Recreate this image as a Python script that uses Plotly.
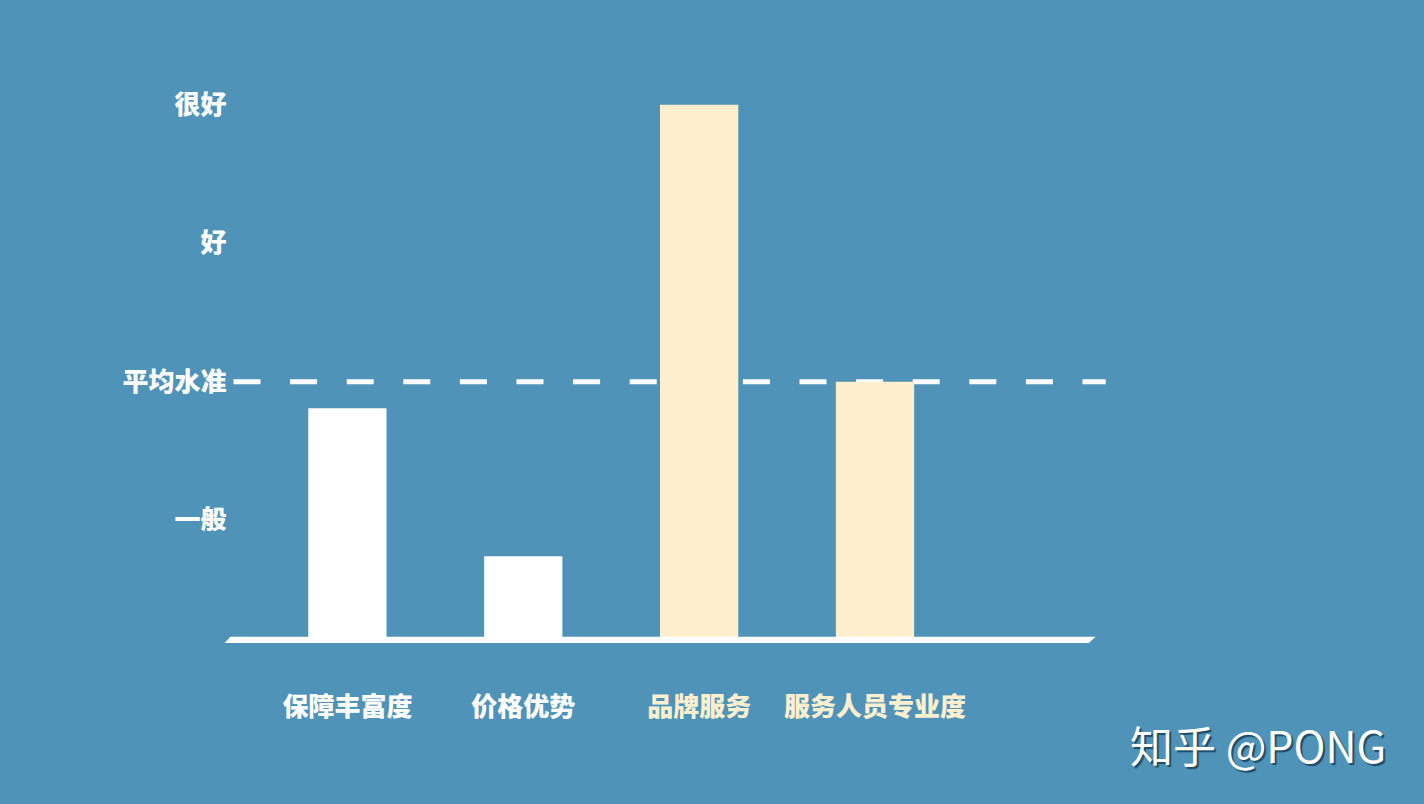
import plotly.graph_objects as go

# ---- data ----
categories = ["保障丰富度", "价格优势", "品牌服务", "服务人员专业度"]
scores = [1.81, 0.74, 4.0, 2.0]          # on the 一般=1 … 很好=4 scale
highlight = [False, False, True, True]
level_vals = [1, 2, 3, 4]
level_labels = ["一般", "平均水准", "好", "很好"]
average_level = 2

# ---- style ----
W, H = 1424, 804
BG = "#4F93B8"
WHITE = "#FFFFFF"
CREAM = "#FEEFCF"
FONT = "Noto Sans CJK SC"
BASE = 0.13

bar_colors = [CREAM if h else WHITE for h in highlight]
tick_text = [f"<span style='color:{CREAM if h else WHITE}'>{c}</span>"
             for c, h in zip(categories, highlight)]

fig = go.Figure()
fig.add_trace(go.Bar(
    x=categories, y=[s - BASE for s in scores], base=BASE,
    marker=dict(color=bar_colors, line=dict(width=0)),
    width=0.445, hoverinfo="skip",
))

def px(x):
    return x / W

y0, y1 = 0.1, 4.3
fig.update_layout(
    width=W, height=H, autosize=False,
    margin=dict(l=0, r=0, t=0, b=0),
    paper_bgcolor=BG, plot_bgcolor="rgba(0,0,0,0)",
    showlegend=False,
    font=dict(family=FONT, color=WHITE),
    xaxis=dict(
        domain=[px(260), px(965)], range=[-0.5, 3.5],
        showgrid=False, zeroline=False, showline=False, ticks="",
        tickvals=categories, ticktext=tick_text,
        tickfont=dict(family=FONT, size=26, color=WHITE, weight=900),
        ticklabelstandoff=44, fixedrange=True,
    ),
    yaxis=dict(
        domain=[(H - 645) / H, (H - 63.3) / H], range=[y0, y1],
        anchor="free", position=px(227), side="left",
        showgrid=False, zeroline=False, showline=False, ticks="",
        tickvals=level_vals, ticktext=level_labels,
        tickfont=dict(family=FONT, size=26, color=WHITE, weight=900),
        ticklabelstandoff=0, fixedrange=True,
    ),
    shapes=[
        # dashed average line (behind bars)
        dict(type="line", xref="paper", yref="y", layer="below",
             x0=px(234), x1=px(1108), y0=average_level, y1=average_level,
             line=dict(color=WHITE, width=5, dash="27px,29.6px")),
        # slanted baseline bar (parallelogram)
        dict(type="path", xref="paper", yref="y", layer="above",
             path=f"M {px(225)},0.115 L {px(1091)},0.115 L {px(1098)},0.16 L {px(231)},0.16 Z",
             fillcolor=WHITE, line=dict(width=0)),
    ],
    annotations=[
        dict(text="知乎 @PONG", xref="paper", yref="paper",
             x=px(1391), y=(H - 744) / H, xanchor="right", yanchor="middle",
             showarrow=False,
             font=dict(family=FONT, size=43, color=WHITE,
                       shadow="2px 2px 1px #1d4a66")),
    ],
)

fig.write_html("out.html", config={"displayModeBar": False},
               post_script="document.body.style.margin='0';document.body.style.overflow='hidden';")
